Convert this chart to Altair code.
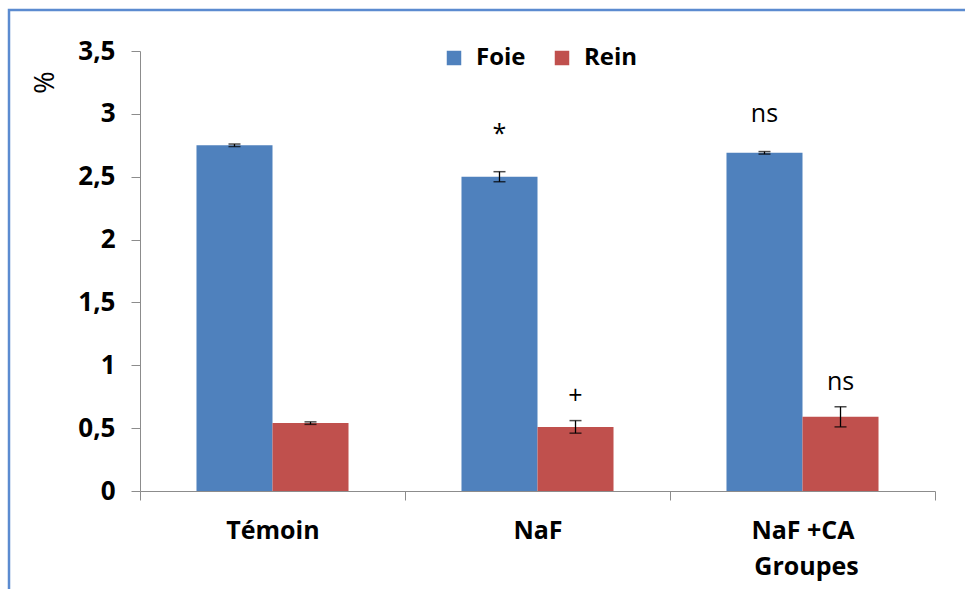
import altair as alt
import pandas as pd

# Organ weight ratio (%) per group, mean and standard error
groups = ["Témoin", "NaF", "NaF +CA"]
organs = ["Foie", "Rein"]
foie_mean = [2.75, 2.50, 2.69]
foie_err = [0.01, 0.04, 0.01]
rein_mean = [0.54, 0.51, 0.59]
rein_err = [0.01, 0.05, 0.08]
foie_sig = ["", "*", "ns"]
rein_sig = ["", "+", "ns"]

rows = []
for i, g in enumerate(groups):
    rows.append({"groupe": g, "organe": "Foie", "moyenne": foie_mean[i],
                 "erreur": foie_err[i], "sig": foie_sig[i]})
    rows.append({"groupe": g, "organe": "Rein", "moyenne": rein_mean[i],
                 "erreur": rein_err[i], "sig": rein_sig[i]})
df = pd.DataFrame(rows)
df["bas"] = df["moyenne"] - df["erreur"]
df["haut"] = df["moyenne"] + df["erreur"]

FONT = "Open Sans"
W, H = 795, 440

x_enc = alt.X(
    "groupe:N", sort=groups,
    scale=alt.Scale(paddingInner=0, paddingOuter=0),
    axis=alt.Axis(
        title="Groupes", titleFont=FONT, titleFontSize=25, titleFontWeight="bold",
        titleColor="black", titleX=666, titleY=75, titleAlign="center",
        titleBaseline="middle",
        labelFont=FONT, labelFontSize=25, labelFontWeight="bold", labelColor="black",
        labelAngle=0, labelPadding=18, tickBand="extent", tickSize=9,
        tickColor="#8c8c8c", domainColor="#8c8c8c", grid=False,
    ),
)
off_enc = alt.XOffset("organe:N", sort=organs,
                      scale=alt.Scale(paddingInner=0, paddingOuter=0.743))
y_scale = alt.Scale(domain=[0, 3.5], nice=False)

bars = alt.Chart(df).mark_bar().encode(
    x=x_enc,
    xOffset=off_enc,
    y=alt.Y(
        "moyenne:Q", scale=y_scale,
        axis=alt.Axis(
            title="%", titleFont=FONT, titleFontSize=27, titleFontWeight="normal",
            titleColor="black", titleX=-95, titleY=31, titleAlign="center",
            titleBaseline="middle",
            values=[0, 0.5, 1, 1.5, 2, 2.5, 3, 3.5], format="~g",
            labelExpr="replace(datum.label, '.', ',')",
            labelFont=FONT, labelFontSize=26, labelFontWeight="bold",
            labelColor="black", labelPadding=16, tickSize=9,
            tickColor="#8c8c8c", domainColor="#8c8c8c", grid=False,
        ),
    ),
    color=alt.Color(
        "organe:N", sort=organs,
        scale=alt.Scale(domain=organs, range=["#4f81bd", "#c0504d"]),
        legend=alt.Legend(
            title=None, orient="none", direction="horizontal",
            legendX=302, legendY=-5, symbolType="square", symbolSize=210,
            symbolStrokeWidth=0, labelFont=FONT, labelFontSize=24,
            labelFontWeight="bold", labelColor="black", labelOffset=10,
            columnPadding=24,
        ),
    ),
)

whisker = alt.Chart(df).mark_rule(color="black", strokeWidth=1.3).encode(
    x=alt.X("groupe:N", sort=groups),
    xOffset=alt.XOffset("organe:N", sort=organs),
    y=alt.Y("bas:Q", scale=y_scale),
    y2="haut:Q",
)
cap_lo = alt.Chart(df).mark_tick(color="black", size=12, thickness=1.5).encode(
    x=alt.X("groupe:N", sort=groups),
    xOffset=alt.XOffset("organe:N", sort=organs),
    y=alt.Y("bas:Q", scale=y_scale),
)
cap_hi = alt.Chart(df).mark_tick(color="black", size=12, thickness=1.5).encode(
    x=alt.X("groupe:N", sort=groups),
    xOffset=alt.XOffset("organe:N", sort=organs),
    y=alt.Y("haut:Q", scale=y_scale),
)


def signif_layer(organe, dy):
    return alt.Chart(df).transform_filter(
        f"datum.sig != '' && datum.organe == '{organe}'"
    ).mark_text(
        font=FONT, fontSize=25, color="black", baseline="alphabetic", dy=dy,
    ).encode(
        x=alt.X("groupe:N", sort=groups),
        xOffset=alt.XOffset("organe:N", sort=organs),
        y=alt.Y("haut:Q", scale=y_scale),
        text="sig:N",
    )


# Outer frame around the whole figure
frame = alt.Chart(pd.DataFrame({"k": [0]})).mark_rect(
    fill=None, stroke="#5b8bd0", strokeWidth=2.5, clip=False,
).encode(
    x=alt.value(-131), x2=alt.value(W + 40),
    y=alt.value(-41), y2=alt.value(H + 120),
)

chart = alt.layer(
    frame, bars, whisker, cap_lo, cap_hi,
    signif_layer("Foie", -30), signif_layer("Rein", -17),
).properties(
    width=W, height=H,
    autosize=alt.AutoSizeParams(type="none"),
    padding={"left": 140, "top": 51, "right": 30, "bottom": 98},
    background="white",
).configure_view(stroke=None)

chart.save("out.html", embed_options={"renderer": "svg", "actions": False})
